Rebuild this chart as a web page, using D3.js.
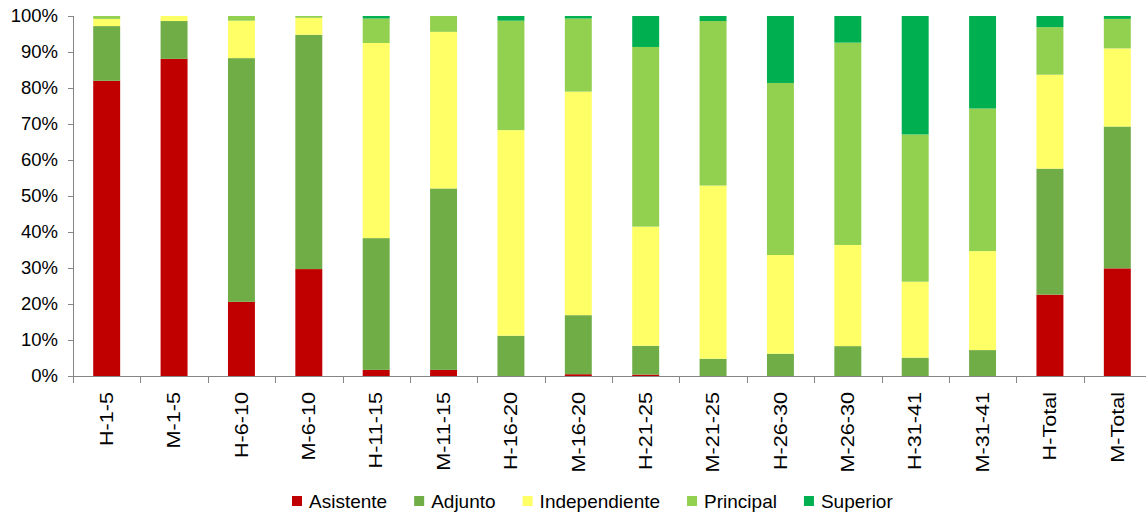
<!DOCTYPE html>
<html>
<head>
<meta charset="utf-8">
<script src="https://cdn.jsdelivr.net/npm/d3@7"></script>
<style>
  body { margin: 0; background: #fff; }
  text { font-family: "Liberation Sans", Arial, sans-serif; fill: #000; }
</style>
</head>
<body>
<div class="plot"></div>
<script>
var categories = ["H-1-5", "M-1-5", "H-6-10", "M-6-10", "H-11-15", "M-11-15",
    "H-16-20", "M-16-20", "H-21-25", "M-21-25", "H-26-30", "M-26-30",
    "H-31-41", "M-31-41", "H-Total", "M-Total"];

var seriesNames = ["Asistente", "Adjunto", "Independiente", "Principal", "Superior"];
var seriesColors = ["#C00000", "#70AD47", "#FFFF66", "#92D050", "#00B050"];

// percentages per series, one value per category
var asistente     = [82.0, 88.1, 20.6, 29.7,  1.7,  1.7,  0.0,  0.5,  0.4,  0.0,  0.0,  0.0,  0.0,  0.0, 22.6, 29.9];
var adjunto       = [15.2, 10.5, 67.7, 65.1, 36.6, 50.4, 11.2, 16.4,  8.0,  4.8,  6.2,  8.3,  5.1,  7.2, 35.0, 39.4];
var independiente = [ 2.0,  1.4, 10.4,  4.7, 54.2, 43.5, 57.1, 62.1, 33.1, 48.1, 27.4, 28.1, 21.1, 27.5, 26.1, 21.7];
var principal     = [ 0.8,  0.0,  1.3,  0.5,  6.8,  4.4, 30.4, 20.3, 49.9, 45.7, 47.8, 56.2, 40.9, 39.6, 13.2,  8.2];
var superior      = [ 0.0,  0.0,  0.0,  0.0,  0.7,  0.0,  1.3,  0.7,  8.6,  1.4, 18.6,  7.4, 32.9, 25.7,  3.1,  0.8];

var yTicks = [0, 10, 20, 30, 40, 50, 60, 70, 80, 90, 100];

var width = 1146,
    height = 514,
    margin = {top: 16, right: -5, bottom: 138, left: 73};

var rows = categories.map(function(c, i) {
  return {cat: c, Asistente: asistente[i], Adjunto: adjunto[i], Independiente: independiente[i],
          Principal: principal[i], Superior: superior[i]};
});

// normalise each column to 100%
rows.forEach(function(r) {
  var t = d3.sum(seriesNames, function(k) { return r[k]; });
  seriesNames.forEach(function(k) { r[k] = r[k] / t * 100; });
});

var stacked = d3.stack().keys(seriesNames)(rows);

var x = d3.scaleBand()
    .domain(categories)
    .range([margin.left, width - margin.right])
    .paddingInner(0.6)
    .paddingOuter(0.3);

var y = d3.scaleLinear()
    .domain([0, 100])
    .range([height - margin.bottom, margin.top]);

var color = d3.scaleOrdinal().domain(seriesNames).range(seriesColors);

var svg = d3.select(".plot").append("svg")
    .attr("width", width)
    .attr("height", height);

// bars
svg.append("g").selectAll("g")
    .data(stacked)
  .enter().append("g")
    .attr("fill", function(d) { return color(d.key); })
  .selectAll("rect")
    .data(function(d) { return d; })
  .enter().append("rect")
    .attr("x", function(d) { return x(d.data.cat); })
    .attr("width", x.bandwidth())
    .attr("y", function(d) { return y(d[1]); })
    .attr("height", function(d) { return y(d[0]) - y(d[1]); });

var axisColor = "#868686";

// y axis
var yAxis = svg.append("g")
    .attr("transform", "translate(" + margin.left + ",0)")
    .call(d3.axisLeft(y).tickValues(yTicks).tickSize(5).tickPadding(10)
      .tickFormat(function(d) { return d + "%"; }));
yAxis.select(".domain").attr("stroke", axisColor).attr("d", "M0.5," + y(100) + "V" + y(0));
yAxis.selectAll(".tick line").attr("stroke", axisColor);
yAxis.selectAll("text")
    .attr("font-size", 18.5)
    .attr("font-family", "Liberation Sans, Arial, sans-serif")
    .attr("fill", "#000");

// x axis line + ticks at category boundaries
var x0 = margin.left, x1 = width - margin.right, base = y(0);
var step = x.step();
var xg = svg.append("g");
xg.append("line")
    .attr("x1", x0).attr("x2", x1)
    .attr("y1", base + 0.5).attr("y2", base + 0.5)
    .attr("stroke", axisColor);
xg.selectAll(".xt")
    .data(d3.range(categories.length + 1))
  .enter().append("line")
    .attr("x1", function(i) { return Math.round(x0 + i * step) + 0.5; })
    .attr("x2", function(i) { return Math.round(x0 + i * step) + 0.5; })
    .attr("y1", base)
    .attr("y2", base + 7)
    .attr("stroke", axisColor);

// rotated category labels
xg.selectAll(".xl")
    .data(categories)
  .enter().append("text")
    .attr("transform", function(d) {
      return "translate(" + (x(d) + x.bandwidth() / 2) + "," + (base + 16) + ") rotate(-90) scale(1.2,1)";
    })
    .attr("dy", "0.35em")
    .attr("text-anchor", "end")
    .attr("font-size", 18)
    .text(function(d) { return d; });

// legend
var legend = svg.append("g");
var lx = 292, ly = 501;
seriesNames.forEach(function(name) {
  legend.append("rect")
      .attr("x", lx).attr("y", ly - 5)
      .attr("width", 10).attr("height", 10)
      .attr("fill", color(name));
  var t = legend.append("text")
      .attr("x", lx + 17).attr("y", ly)
      .attr("dy", "0.35em")
      .attr("font-size", 19)
      .text(name);
  lx += 17 + t.node().getComputedTextLength() + 27;
});
</script>
</body>
</html>
